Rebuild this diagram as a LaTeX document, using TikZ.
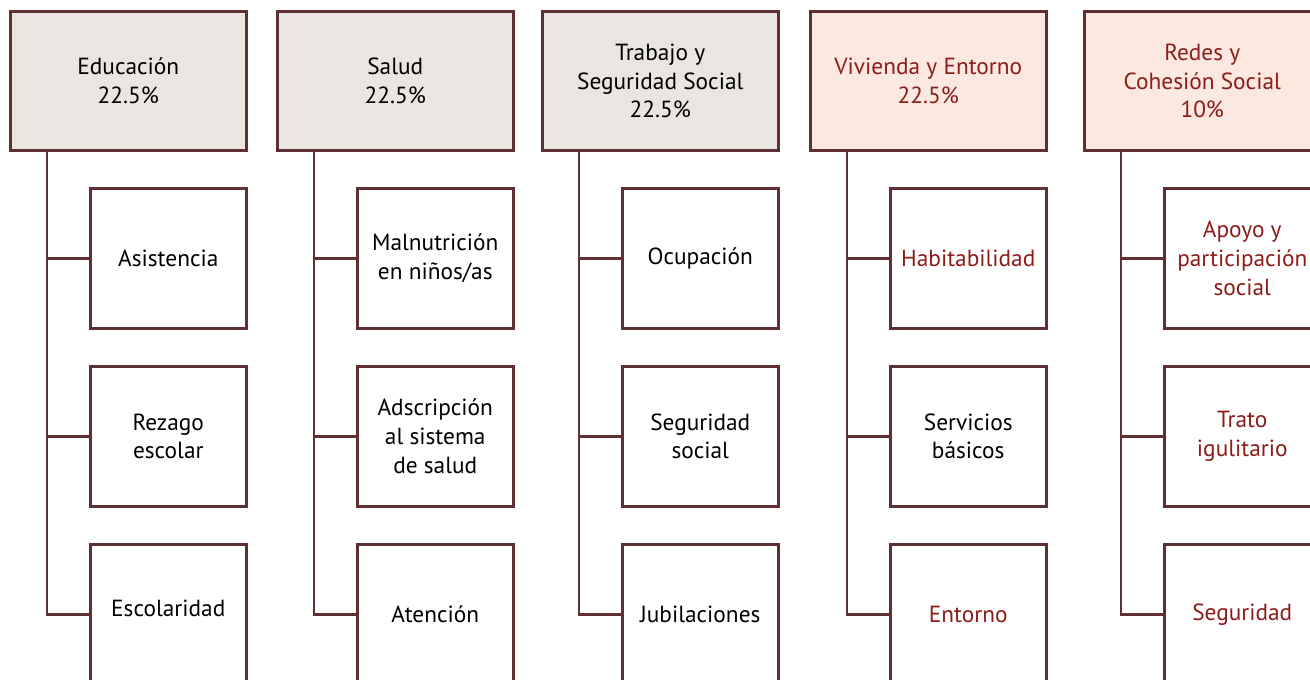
\documentclass[tikz,border=0pt]{standalone}
\usepackage{fontspec}
\setmainfont{PT Sans}
\definecolor{edge}{HTML}{5E2F33}
\definecolor{headgrey}{HTML}{E9E5E0}
\definecolor{headpink}{HTML}{FAE8E1}
\definecolor{txtred}{HTML}{8C1D18}
\tikzset{
  every node/.style={font=\fontsize{17.5}{21.5}\selectfont, align=center, inner sep=0pt},
  head/.style={draw=edge, line width=1.9pt, anchor=north west, minimum width=177pt, minimum height=104.5pt},
  greyhead/.style={head, fill=headgrey},
  pinkhead/.style={head, fill=headpink, text=txtred},
  child/.style={draw=edge, line width=1.9pt, fill=white, anchor=north west, minimum width=117pt, minimum height=105pt},
  redchild/.style={child, text=txtred},
  link/.style={draw=edge, line width=1.9pt}
}
\begin{document}
\begin{tikzpicture}[x=0.75pt,y=-0.75pt]
\clip (0,0) rectangle (1310,680);
\fill[white] (0,0) rectangle (1310,680);
% headers
\node[greyhead] (h1) at (9,10) {Educación\\22.5\%};
\node[greyhead] (h2) at (276,10) {Salud\\22.5\%};
\node[greyhead] (h3) at (541,10) {Trabajo y\\Seguridad Social\\22.5\%};
\node[pinkhead] (h4) at (809,10) {Vivienda y Entorno\\22.5\%};
\node[pinkhead] (h5) at (1083,10) {Redes y\\Cohesión Social\\10\%};
% children col 1
\node[child] (c11) at (89,187) {Asistencia};
\node[child] (c12) at (89,365) {Rezago\\escolar};
\node[child, text height=13pt, text depth=9pt] (c13) at (89,543) {Escolaridad};
% col 2
\node[child] (c21) at (356,187) {Malnutrición\\en niños/as};
\node[child] (c22) at (356,365) {Adscripción\\al sistema\\de salud};
\node[child] (c23) at (356,543) {Atención};
% col 3
\node[child] (c31) at (621,187) {Ocupación};
\node[child] (c32) at (621,365) {Seguridad\\social};
\node[child] (c33) at (621,543) {Jubilaciones};
% col 4
\node[redchild] (c41) at (889,187) {Habitabilidad};
\node[child] (c42) at (889,365) {Servicios\\básicos};
\node[redchild] (c43) at (889,543) {Entorno};
% col 5
\node[redchild] (c51) at (1163,187) {Apoyo y\\participación\\social};
\node[redchild] (c52) at (1163,365) {Trato\\igulitario};
\node[redchild] (c53) at (1163,543) {Seguridad};
% trunks
\foreach \i in {1,...,5}{
  \coordinate (t\i) at ([xshift=28.5pt]h\i.south west);
  \path[link] (t\i) |- (c\i3.west);
  \path[link] (t\i |- c\i1.west) -- (c\i1.west);
  \path[link] (t\i |- c\i2.west) -- (c\i2.west);
}
\end{tikzpicture}
\end{document}
